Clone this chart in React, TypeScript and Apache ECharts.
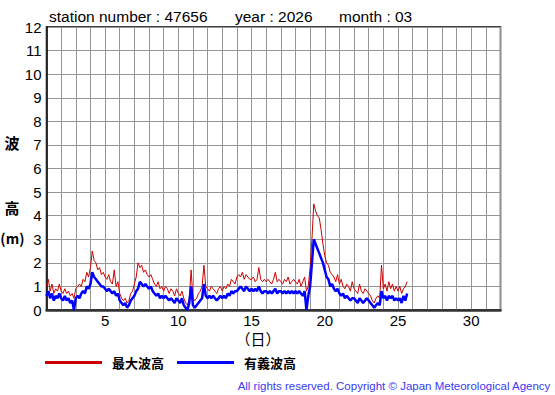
import React, { useEffect, useRef } from "react";
import * as echarts from "echarts";

// sampling: every 3 hours starting at day 1 00:00
const startDay = 1;
const stepDay = 0.125;

const maxWave: number[] = [
  1.0,1.3,0.8,1.1,0.7,0.9,0.8,1.1,
  0.8,0.7,0.9,0.7,0.8,0.6,0.7,0.5,
  0.9,1.0,1.1,1.0,1.3,1.2,1.6,1.4,
  1.8,2.5,2.1,2.0,1.7,1.8,1.5,1.6,
  1.4,1.3,1.5,1.2,1.1,1.7,1.0,1.2,
  0.7,0.5,0.4,0.5,0.3,0.4,0.7,0.8,
  1.1,1.4,2.0,1.8,1.9,1.6,1.7,1.5,
  1.4,1.5,1.3,1.1,1.0,1.2,0.9,1.0,
  0.8,1.0,0.9,0.7,0.9,0.8,0.6,0.9,
  0.7,0.6,0.8,0.5,0.3,0.2,0.5,1.7,
  0.5,0.4,0.5,0.7,0.8,1.0,1.9,1.0,
  0.9,0.8,1.0,0.9,0.8,0.7,0.9,1.0,
  0.8,1.0,0.9,1.1,1.0,1.3,1.2,1.1,
  1.4,1.5,1.4,1.6,1.3,1.5,1.4,1.3,
  1.3,1.4,1.2,1.3,1.8,1.3,1.2,1.3,
  1.2,1.3,1.2,1.1,1.3,1.6,1.2,1.3,
  1.2,1.1,1.3,1.2,1.4,1.1,1.2,1.3,
  1.2,1.1,1.3,1.0,1.2,1.4,0.8,1.0,
  1.8,3.0,4.5,4.2,4.0,3.9,3.4,2.8,
  2.3,2.0,1.9,1.6,1.5,1.4,1.2,1.5,
  1.1,1.3,1.0,0.9,1.1,1.0,0.8,1.2,
  0.9,0.8,0.7,1.1,0.8,0.7,0.9,0.8,
  0.7,0.6,0.4,0.3,0.5,0.6,0.5,1.9,
  0.9,1.1,0.8,1.2,0.9,1.1,0.8,1.0,
  0.8,1.0,0.7,0.9,1.0,1.2,
];

const sigWave: number[] = [
  0.6,0.8,0.5,0.7,0.4,0.6,0.5,0.7,
  0.5,0.4,0.6,0.4,0.5,0.3,0.4,0.0,
  0.5,0.6,0.5,0.7,0.8,0.7,1.0,0.9,
  1.1,1.6,1.4,1.3,1.2,1.1,1.0,1.0,
  0.9,0.8,0.9,0.8,0.7,0.8,0.6,0.7,
  0.4,0.3,0.2,0.3,0.1,0.2,0.4,0.5,
  0.6,0.8,0.9,1.2,1.1,1.0,1.1,1.0,
  0.9,1.0,0.8,0.7,0.6,0.7,0.5,0.6,
  0.5,0.6,0.5,0.4,0.5,0.4,0.3,0.5,
  0.4,0.3,0.5,0.2,0.1,0.0,0.3,1.0,
  0.2,0.1,0.2,0.3,0.4,0.5,1.1,0.6,
  0.5,0.6,0.5,0.6,0.5,0.4,0.5,0.6,
  0.5,0.6,0.5,0.7,0.6,0.8,0.7,0.8,
  0.8,0.9,1.0,0.9,0.8,1.0,0.9,0.8,
  0.9,0.8,0.9,0.8,1.0,0.8,0.7,0.8,
  0.8,0.7,0.8,0.7,0.8,0.9,0.7,0.8,
  0.8,0.7,0.8,0.7,0.8,0.7,0.8,0.7,
  0.8,0.7,0.8,0.7,0.6,0.8,0.0,0.6,
  1.0,2.0,3.0,2.8,2.6,2.4,2.2,2.0,
  1.7,1.4,1.3,1.0,1.1,0.9,0.8,0.9,
  0.7,0.6,0.7,0.5,0.6,0.5,0.4,0.5,
  0.5,0.4,0.3,0.5,0.4,0.3,0.4,0.5,
  0.4,0.3,0.2,0.1,0.2,0.3,0.2,0.8,
  0.5,0.6,0.4,0.6,0.5,0.6,0.4,0.5,
  0.4,0.5,0.3,0.6,0.4,0.7,
];

const seriesNames = ["最大波高", "有義波高"];
const xLabelDays = [5, 10, 15, 20, 25, 30];
const titleParts = ["station number : 47656", "year : 2026", "month : 03"];
const yTitleChars = ["波", "高"];
const yUnitParts = ["(", "m", ")"];
const xTitle = "（日）";
const copyright = "All rights reserved. Copyright © Japan Meteorological Agency";

const toPairs = (vals: number[]) => vals.map((v, i) => [startDay + i * stepDay, v]);

export default function App() {
  const ref = useRef<HTMLDivElement>(null);
  useEffect(() => {
    if (!ref.current) return;
    const chart = echarts.init(ref.current, undefined, { renderer: "svg" });
    const sans = "Liberation Sans, Arial, sans-serif";
    const cjk = "Noto Sans CJK JP, sans-serif";
    chart.setOption({
      animation: false,
      backgroundColor: "#fff",
      grid: {
        left: 46.5,
        right: 54.5,
        top: 27,
        bottom: 85,
        show: true,
        borderColor: "#000",
        borderWidth: 1.5,
        backgroundColor: "transparent",
      },
      legend: {
        data: seriesNames,
        left: 45,
        top: 356,
        padding: 0,
        icon: "rect",
        itemWidth: 57,
        itemHeight: 3,
        itemGap: 13,
        textStyle: {
          fontFamily: cjk,
          fontWeight: "bold",
          fontSize: 13,
          color: "#000",
          padding: [0, 0, 0, 5],
        },
        selectedMode: false,
      },
      xAxis: {
        type: "value",
        min: 1,
        max: 32,
        interval: 1,
        axisLine: { show: true, lineStyle: { color: "#333", width: 2.5 } },
        axisTick: { show: false },
        axisLabel: {
          fontFamily: sans,
          fontSize: 15,
          color: "#000",
          margin: 3,
          formatter: (v: number) => (xLabelDays.includes(v) ? String(v) : ""),
        },
        splitLine: { show: true, lineStyle: { color: "#959595", width: 1 } },
      },
      yAxis: {
        type: "value",
        min: 0,
        max: 12,
        interval: 1,
        axisLine: { show: true, lineStyle: { color: "#000", width: 1.5 } },
        axisTick: { show: false },
        axisLabel: { fontFamily: sans, fontSize: 15, color: "#000", margin: 5 },
        splitLine: { show: true, lineStyle: { color: "#959595", width: 1 } },
      },
      series: [
        {
          name: seriesNames[0],
          type: "line",
          data: toPairs(maxWave),
          showSymbol: false,
          lineStyle: { color: "#cc0000", width: 1 },
          itemStyle: { color: "#cc0000" },
        },
        {
          name: seriesNames[1],
          type: "line",
          data: toPairs(sigWave),
          showSymbol: false,
          lineStyle: { color: "#0000ff", width: 2.5 },
          itemStyle: { color: "#0000ff" },
        },
      ],
      graphic: [
        { type: "text", left: 49, top: 8, style: { text: titleParts[0], font: `15.5px ${sans}`, fill: "#000" } },
        { type: "text", left: 235, top: 8, style: { text: titleParts[1], font: `15.5px ${sans}`, fill: "#000" } },
        { type: "text", left: 339, top: 8, style: { text: titleParts[2], font: `15.5px ${sans}`, fill: "#000" } },
        { type: "text", x: 12, y: 142, style: { text: yTitleChars[0], font: `bold 15px ${cjk}`, fill: "#000", align: "center", verticalAlign: "middle" } },
        { type: "text", x: 12, y: 207, style: { text: yTitleChars[1], font: `bold 15px ${cjk}`, fill: "#000", align: "center", verticalAlign: "middle" } },
        { type: "text", x: 3, y: 238, style: { text: yUnitParts[0], font: `bold 14px ${cjk}`, fill: "#000", align: "center", verticalAlign: "middle" } },
        { type: "text", x: 12.5, y: 238, style: { text: yUnitParts[1], font: `bold 14px ${cjk}`, fill: "#000", align: "center", verticalAlign: "middle" } },
        { type: "text", x: 22, y: 238, style: { text: yUnitParts[2], font: `bold 14px ${cjk}`, fill: "#000", align: "center", verticalAlign: "middle" } },
        { type: "text", x: 258, y: 338, style: { text: xTitle, font: `15px ${cjk}`, fill: "#000", align: "center", verticalAlign: "middle" } },
        { type: "text", right: 4, top: 380, style: { text: copyright, font: `11.5px ${sans}`, fill: "#3a3aee" } },
      ],
    });
    return () => chart.dispose();
  }, []);
  return (
    <div
      ref={ref}
      style={{ position: "fixed", left: 0, top: 0, width: 555, height: 395, background: "#fff" }}
    />
  );
}
